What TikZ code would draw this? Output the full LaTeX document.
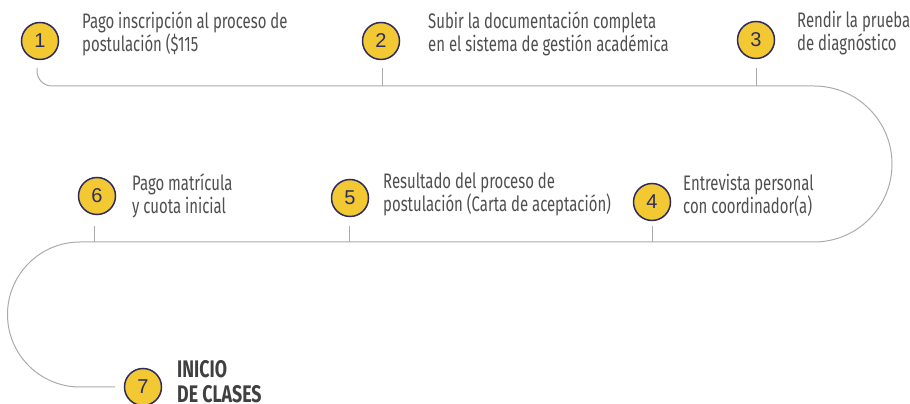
\documentclass[tikz,border=0pt]{standalone}
\usepackage{fontspec}
\setmainfont[FakeStretch=0.71]{Fira Sans}
\newfontfamily\numfont{Liberation Sans}
\newfontfamily\titlefont[FakeStretch=0.74]{Fira Sans}
\usetikzlibrary{calc}
\usetikzlibrary{positioning}

\definecolor{amarillo}{HTML}{F2C932}
\definecolor{azul}{HTML}{2E2C5E}
\definecolor{linea}{HTML}{ABABAB}
\definecolor{texto}{HTML}{4F4F4F}

\begin{document}
\begin{tikzpicture}[
  x=1pt, y=1pt,
  num/.style = {draw=azul, fill=amarillo, line width=1.5pt, circle, minimum size=37pt, inner sep=0pt, text=azul, font=\numfont\fontsize{20}{20}\selectfont},
  txt/.style = {anchor=west, align=left, text=texto, inner sep=0pt, font=\fontsize{21}{23}\selectfont},
  trail/.style = {draw=linea, line width=1pt},
  ]
  \useasboundingbox (0,0) rectangle (910,404);

	% the path
	\coordinate (@1) at (37,336);
	\coordinate (@r) at (814,318);
	\coordinate (@l) at (80,162);
	\coordinate (@7) at (115,17);

	\draw[trail] (@1) -- ++(0,-3) arc[start angle=180, end angle=270, radius=15] -- (@r)
		arc[start angle=90, end angle=-90, radius=78] -- (@l)
		arc[start angle=90, end angle=270, radius=72.5] -- (@7);

	\coordinate (@2) at (382,336);
	\coordinate (@3) at (756,336);
	\coordinate (@4) at (652,178);
	\coordinate (@5) at (349,178);
	\coordinate (@6) at (94,178);

	\draw[trail] (@2) -- (@2 |- @r);
	\draw[trail] (@3) -- (@3 |- @r);
	\draw[trail] (@4) -- (@4 |- @l);
	\draw[trail] (@5) -- (@5 |- @l);
	\draw[trail] (@6) -- (@6 |- @l);

	% the steps
	\node[num] (n1) at (40,363) {1};
	\node[num] (n2) at (381,363) {2};
	\node[num] (n3) at (756,364) {3};
	\node[num] (n4) at (652,202) {4};
	\node[num] (n5) at (350,206) {5};
	\node[num] (n6) at (97,208) {6};
	\node[num] (n7) at (143,17) {7};

	\node[txt] (t1) at (82,370) {Pago inscripción al proceso de\\postulación (\$115};
	\node[txt] (t2) at (428,370) {Subir la documentación completa\\en el sistema de gestión académica};
	\node[txt] (t3) at (797,371) {Rendir la prueba\\de diagnóstico};
	\node[txt] (t4) at (683,209) {Entrevista personal\\con coordinador(a)};
	\node[txt] (t5) at (383,210) {Resultado del proceso de\\postulación (Carta de aceptación)};
	\node[txt] (t6) at (132,208) {Pago matrícula\\y cuota inicial};
	\node[txt, text=black!75, font=\titlefont\bfseries\fontsize{24}{25}\selectfont] (t7) at (177,22) {INICIO\\DE CLASES};

\end{tikzpicture}
\end{document}
